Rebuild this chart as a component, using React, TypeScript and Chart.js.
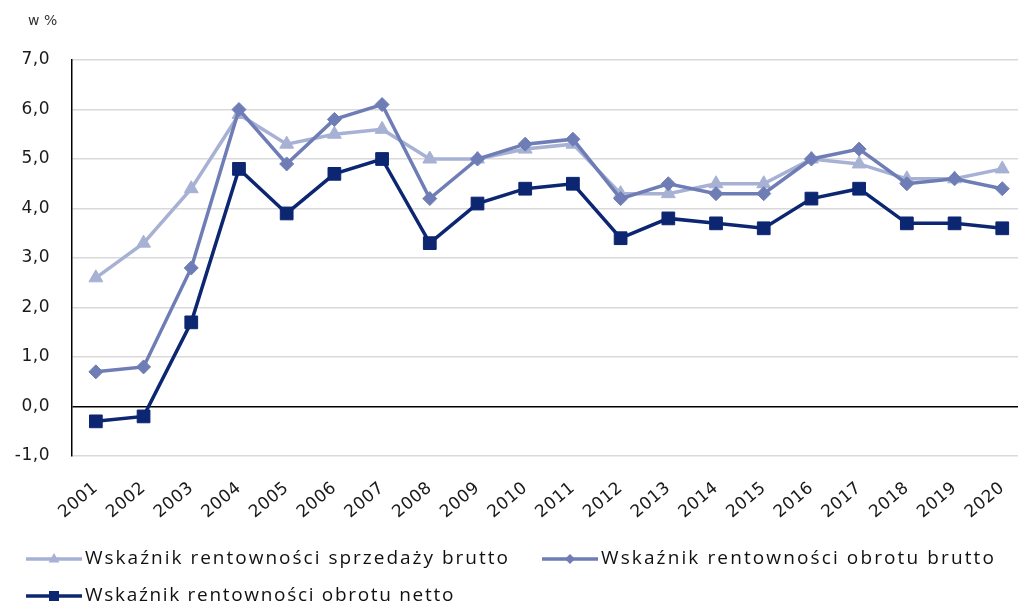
import React, { useEffect, useRef } from "react";
import { Chart, registerables } from "chart.js";

Chart.register(...registerables);

const categories = ["2001","2002","2003","2004","2005","2006","2007","2008","2009","2010","2011","2012","2013","2014","2015","2016","2017","2018","2019","2020"];
const sprzedazyBrutto = [2.6, 3.3, 4.4, 5.9, 5.3, 5.5, 5.6, 5.0, 5.0, 5.2, 5.3, 4.3, 4.3, 4.5, 4.5, 5.0, 4.9, 4.6, 4.6, 4.8];
const obrotuBrutto = [0.7, 0.8, 2.8, 6.0, 4.9, 5.8, 6.1, 4.2, 5.0, 5.3, 5.4, 4.2, 4.5, 4.3, 4.3, 5.0, 5.2, 4.5, 4.6, 4.4];
const obrotuNetto = [-0.3, -0.2, 1.7, 4.8, 3.9, 4.7, 5.0, 3.3, 4.1, 4.4, 4.5, 3.4, 3.8, 3.7, 3.6, 4.2, 4.4, 3.7, 3.7, 3.6];
const seriesNames = [
  "Wskaźnik rentowności sprzedaży brutto",
  "Wskaźnik rentowności obrotu brutto",
  "Wskaźnik rentowności obrotu netto",
];
const yTicks = [-1, 0, 1, 2, 3, 4, 5, 6, 7];
const unitLabel = "w %";

const COLORS = ["#a7b1d4", "#6e7db5", "#0c2672"];
const STYLES = ["triangle", "rectRot", "rect"] as const;
const RADII = [8, 7, 9];

const FONT = '"DejaVu Sans", sans-serif';
const LEGEND_FONT = '"Open Sans", sans-serif';

function drawMarker(ctx: CanvasRenderingContext2D, style: string, x: number, y: number, r: number) {
  ctx.beginPath();
  if (style === "triangle") {
    ctx.moveTo(x, y - r);
    ctx.lineTo(x + r * 0.9, y + r * 0.6);
    ctx.lineTo(x - r * 0.9, y + r * 0.6);
  } else if (style === "rectRot") {
    ctx.moveTo(x, y - r);
    ctx.lineTo(x + r, y);
    ctx.lineTo(x, y + r);
    ctx.lineTo(x - r, y);
  } else {
    ctx.rect(x - r, y - r, 2 * r, 2 * r);
  }
  ctx.closePath();
  ctx.fill();
}

export default function App() {
  const ref = useRef<HTMLCanvasElement | null>(null);

  useEffect(() => {
    if (!ref.current) return;
    const toPts = (arr: number[]) => arr.map((v, i) => ({ x: i, y: v }));
    const seriesData = [sprzedazyBrutto, obrotuBrutto, obrotuNetto];

    const legendPos = [
      { x: 26, y: 559, target: 425, mr: 6 },
      { x: 542, y: 559, target: 395, mr: 5 },
      { x: 26, y: 596, target: 370, mr: 5 },
    ];

    const legendPlugin = {
      id: "customLegend",
      afterDraw(chart: any) {
        const ctx = chart.ctx as CanvasRenderingContext2D;
        ctx.save();
        ctx.font = `14px ${FONT}`;
        (ctx as any).letterSpacing = "0px";
        ctx.fillStyle = "#333";
        ctx.textAlign = "left";
        ctx.textBaseline = "middle";
        ctx.fillText(unitLabel, 28, 21);
        seriesNames.forEach((name, i) => {
          const p = legendPos[i];
          ctx.strokeStyle = COLORS[i];
          ctx.lineWidth = 3.5;
          ctx.beginPath();
          ctx.moveTo(p.x, p.y);
          ctx.lineTo(p.x + 56, p.y);
          ctx.stroke();
          ctx.fillStyle = COLORS[i];
          drawMarker(ctx, STYLES[i], p.x + 28, p.y, p.mr);
          ctx.font = `19px ${LEGEND_FONT}`;
          (ctx as any).letterSpacing = "0px";
          const w = ctx.measureText(name).width;
          const ls = Math.max(0, (p.target - w) / name.length);
          (ctx as any).letterSpacing = `${ls}px`;
          ctx.fillStyle = "#111";
          ctx.textBaseline = "middle";
          ctx.fillText(name, p.x + 59, p.y);
        });
        ctx.restore();
      },
    };

    const chart = new Chart(ref.current, {
      type: "line",
      data: {
        datasets: seriesData.map((arr, i) => ({
          label: seriesNames[i],
          data: toPts(arr),
          borderColor: COLORS[i],
          backgroundColor: COLORS[i],
          borderWidth: 3.5,
          pointStyle: STYLES[i],
          pointRadius: RADII[i],
          pointBorderWidth: 1,
          pointBorderColor: COLORS[i],
          pointBackgroundColor: COLORS[i],
          tension: 0,
          clip: false,
          order: i === 2 ? 0 : i === 1 ? 1 : 2,
        })),
      },
      options: {
        animation: false,
        responsive: false,
        maintainAspectRatio: false,
        layout: { autoPadding: false, padding: { top: 60, left: 0, right: 0, bottom: 0 } },
        plugins: {
          legend: { display: false },
          tooltip: { enabled: false },
        },
        scales: {
          x: {
            type: "linear",
            min: -0.5,
            max: 19.33,
            afterFit: (s: any) => {
              s.height = 152;
              s.paddingLeft = 0;
              s.paddingRight = 0;
            },
            afterBuildTicks: (s: any) => {
              s.ticks = categories.map((_, i) => ({ value: i }));
            },
            grid: { display: false, drawTicks: false },
            border: { display: false },
            ticks: {
              autoSkip: false,
              minRotation: 40,
              maxRotation: 40,
              padding: 22,
              color: "#1a1a1a",
              font: { family: FONT, size: 17 },
              callback: (v: any) => categories[Math.round(Number(v))] ?? "",
            },
          },
          y: {
            min: -1,
            max: 7,
            afterFit: (s: any) => {
              s.width = 72;
              s.paddingTop = 0;
              s.paddingBottom = 0;
            },
            afterBuildTicks: (s: any) => {
              s.ticks = yTicks.map((v) => ({ value: v }));
            },
            grid: {
              drawTicks: false,
              lineWidth: 1.5,
              color: (c: any) => (c.tick && c.tick.value === 0 ? "#000" : "#d9d9d9"),
            },
            border: { display: true, color: "#000", width: 1.5 },
            ticks: {
              padding: 22,
              color: "#1a1a1a",
              font: { family: FONT, size: 17 },
              callback: (v: any) => Number(v).toFixed(1).replace(".", ","),
            },
          },
        },
      },
      plugins: [
        {
          id: "spacing",
          beforeDraw(chart: any) {
            (chart.ctx as any).letterSpacing = "0.5px";
          },
        },
        legendPlugin,
      ],
    });
    return () => chart.destroy();
  }, []);

  return (
    <div style={{ position: "absolute", left: 0, top: 0, width: 1018, height: 608, background: "#fff" }}>
      <canvas ref={ref} width={1018} height={608} style={{ display: "block" }} />
    </div>
  );
}
